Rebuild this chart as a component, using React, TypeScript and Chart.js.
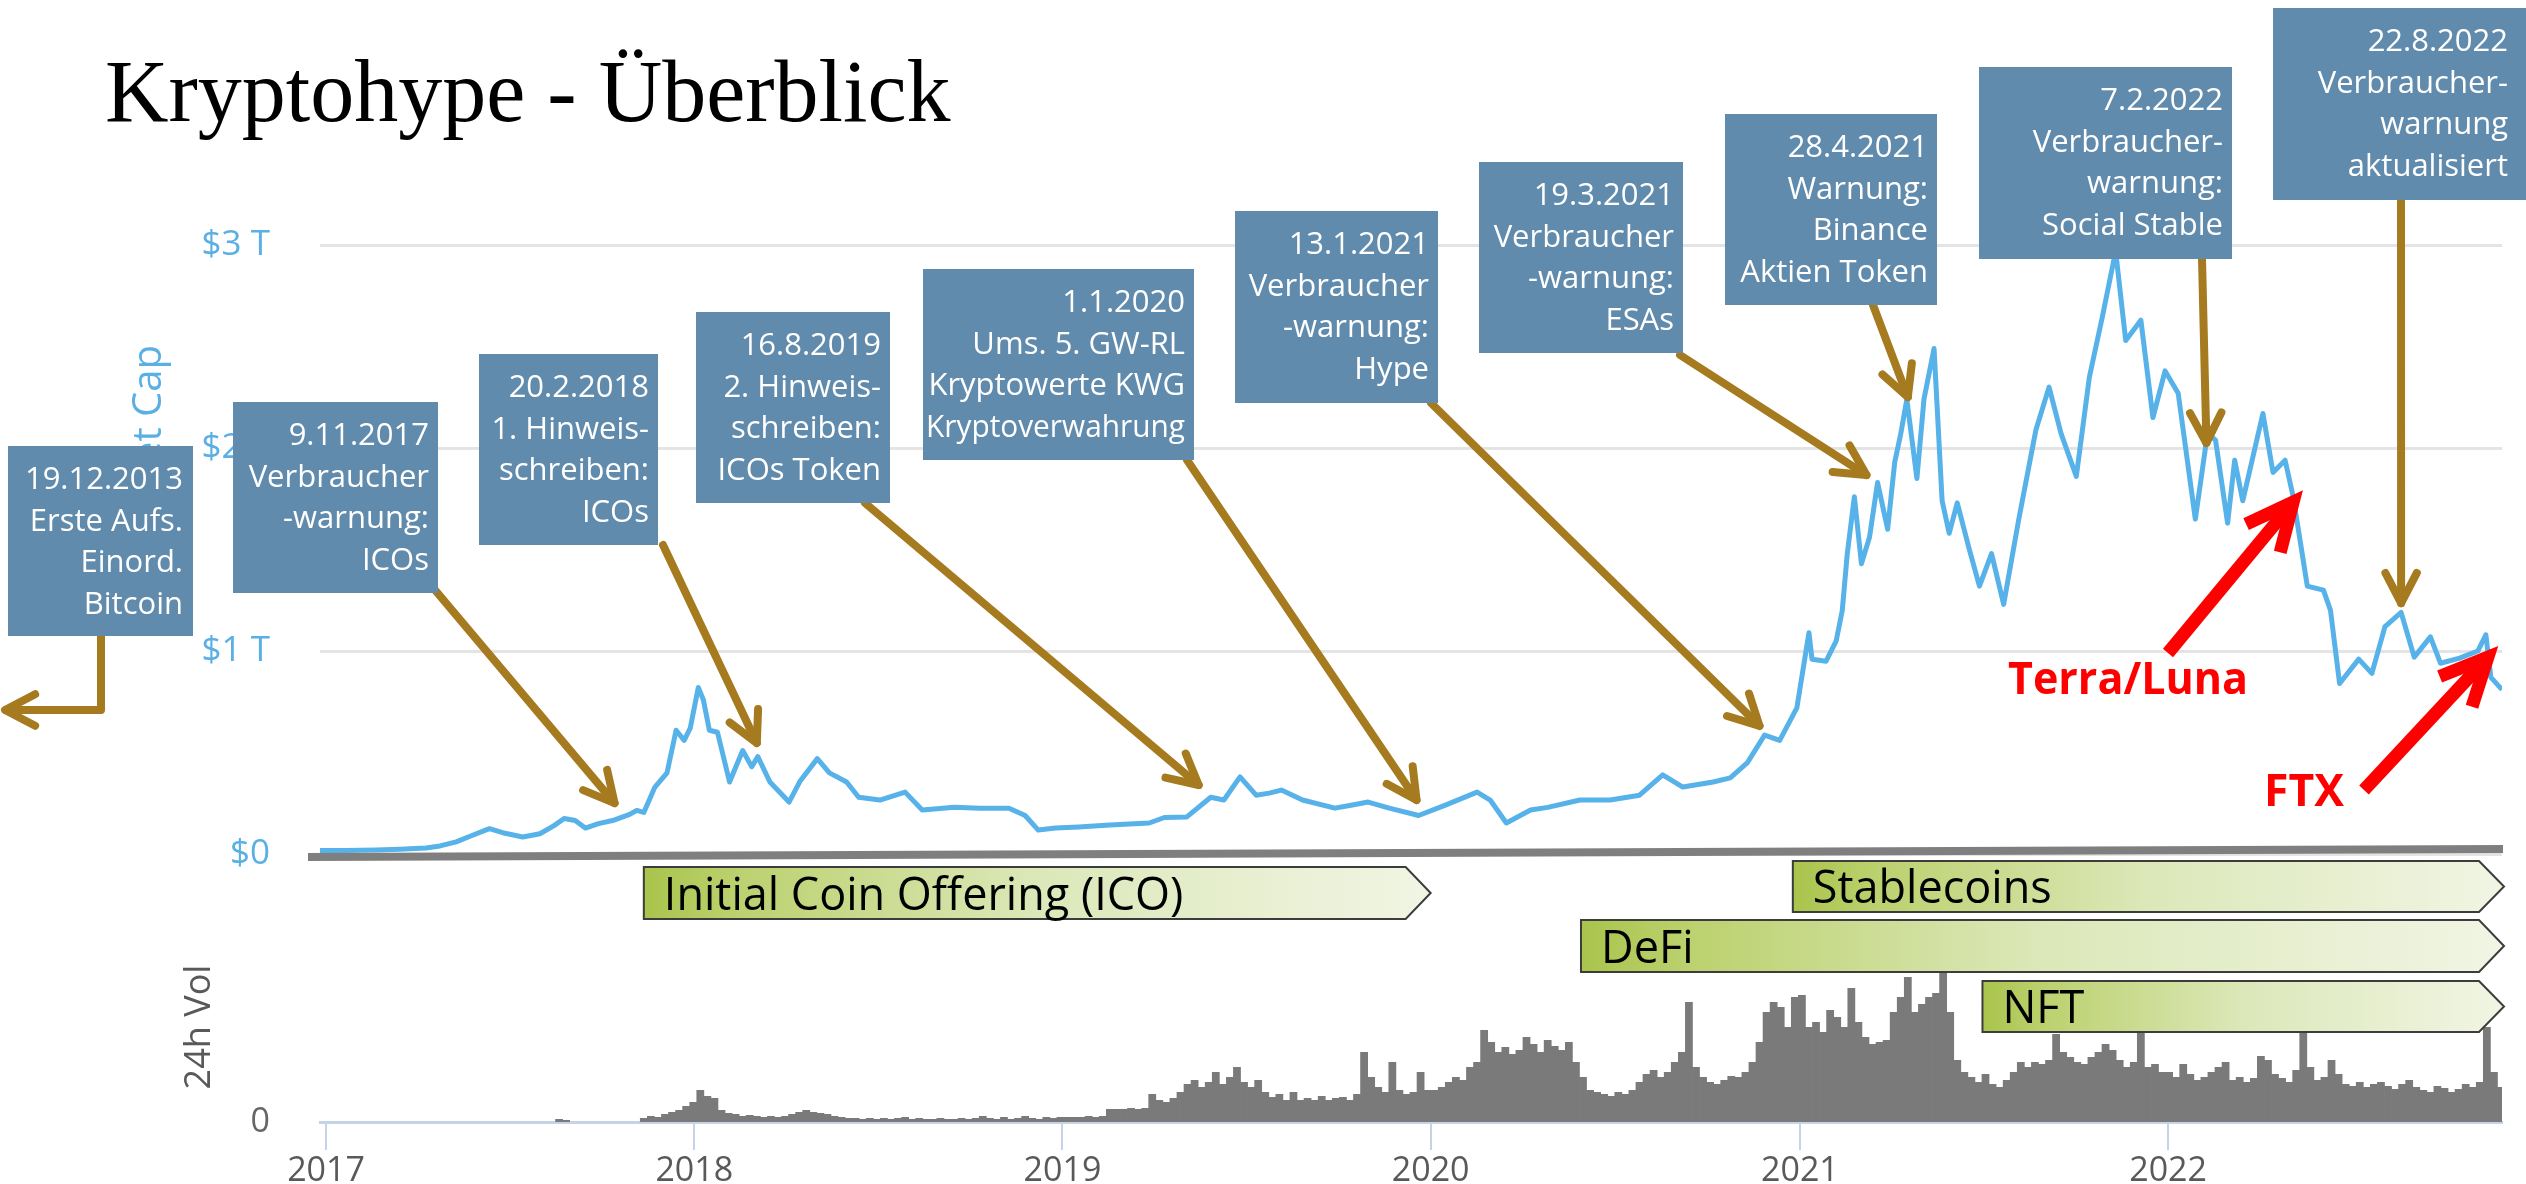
import React, { useEffect, useRef } from 'react';
import { Chart, registerables } from 'chart.js';
Chart.register(...registerables);

// ---------------- data ----------------
const TITLE = 'Kryptohype - Überblick';
const MCAP_TITLE = 'Market Cap';
const VOL_TITLE = '24h Vol';

const YEAR_TICK_DATES = ['2017-01-01', '2018-01-01', '2019-01-01', '2020-01-01', '2021-01-01', '2022-01-01'];
const YEAR_LABELS = ['2017', '2018', '2019', '2020', '2021', '2022'];
const MCAP_TICKS = [0, 1000, 2000, 3000];
const MCAP_TICK_LABELS = ['$0', '$1 T', '$2 T', '$3 T'];
const VOL_TICK_LABEL = '0';

// total market cap, $ billions
const MCAP_DATES = [
  '2016-12-26', '2017-01-20', '2017-02-20', '2017-03-15', '2017-04-10', '2017-04-24', '2017-05-10', '2017-05-25',
  '2017-06-12', '2017-06-25', '2017-07-15', '2017-08-01', '2017-08-15', '2017-08-25', '2017-09-05', '2017-09-15',
  '2017-09-28', '2017-10-12', '2017-10-29', '2017-11-05', '2017-11-12', '2017-11-23', '2017-12-05', '2017-12-14',
  '2017-12-22', '2017-12-28', '2018-01-05', '2018-01-10', '2018-01-16', '2018-01-24', '2018-02-05', '2018-02-18',
  '2018-02-27', '2018-03-05', '2018-03-17', '2018-04-05', '2018-04-16', '2018-05-03', '2018-05-15', '2018-06-01',
  '2018-06-13', '2018-07-04', '2018-07-29', '2018-08-15', '2018-09-16', '2018-10-11', '2018-11-09', '2018-11-25',
  '2018-12-08', '2018-12-25', '2019-01-17', '2019-02-17', '2019-03-28', '2019-04-12', '2019-05-04', '2019-05-28',
  '2019-06-10', '2019-06-26', '2019-07-12', '2019-07-25', '2019-08-06', '2019-08-27', '2019-09-28', '2019-10-14',
  '2019-10-31', '2019-11-21', '2019-12-20', '2020-01-15', '2020-02-16', '2020-02-29', '2020-03-16', '2020-04-09',
  '2020-04-26', '2020-05-28', '2020-06-27', '2020-07-26', '2020-08-18', '2020-09-07', '2020-10-07', '2020-10-24',
  '2020-11-10', '2020-11-27', '2020-12-12', '2020-12-29', '2021-01-10', '2021-01-13', '2021-01-27', '2021-02-06',
  '2021-02-12', '2021-02-17', '2021-02-24', '2021-03-03', '2021-03-11', '2021-03-19', '2021-03-29', '2021-04-05',
  '2021-04-11', '2021-04-17', '2021-04-27', '2021-05-04', '2021-05-14', '2021-05-22', '2021-05-29', '2021-06-06',
  '2021-06-18', '2021-06-28', '2021-07-10', '2021-07-22', '2021-08-06', '2021-08-23', '2021-09-05', '2021-09-17',
  '2021-10-02', '2021-10-15', '2021-10-28', '2021-11-10', '2021-11-20', '2021-12-05', '2021-12-17', '2021-12-29',
  '2022-01-11', '2022-01-28', '2022-02-09', '2022-02-17', '2022-03-01', '2022-03-08', '2022-03-16', '2022-04-05',
  '2022-04-15', '2022-04-27', '2022-05-05', '2022-05-19', '2022-06-04', '2022-06-11', '2022-06-20', '2022-07-09',
  '2022-07-22', '2022-08-04', '2022-08-20', '2022-09-02', '2022-09-18', '2022-09-28', '2022-10-17', '2022-11-04',
  '2022-11-12', '2022-11-17', '2022-11-28',
];
const MCAP_BILLIONS = [
  17, 18, 20, 24, 30, 40, 60, 90,
  125, 105, 84, 100, 140, 175, 165, 128,
  150, 165, 195, 215, 205, 330, 400, 610,
  560, 620, 820, 760, 610, 600, 355, 510,
  430, 480, 355, 256, 360, 470, 400, 355,
  280, 266, 305, 217, 230, 226, 226, 190,
  118, 128, 133, 143, 153, 180, 182, 280,
  266, 380, 290, 300, 315, 266, 226, 240,
  256, 226, 190, 240, 305, 266, 153, 217,
  230, 266, 266, 290, 390, 330, 355, 375,
  450, 586, 560, 720, 1090, 960, 950, 1050,
  1200, 1480, 1760, 1430, 1560, 1830, 1600, 1930,
  2070, 2240, 1850, 2240, 2490, 1740, 1580, 1730,
  1500, 1320, 1480, 1230, 1650, 2090, 2300, 2070,
  1860, 2350, 2650, 2970, 2530, 2630, 2150, 2380,
  2270, 1650, 2070, 2040, 1630, 1940, 1740, 2170,
  1880, 1940, 1760, 1320, 1300, 1200, 840, 960,
  890, 1120, 1190, 970, 1070, 940, 965, 1000,
  1080, 870, 810,
];

// 24h volume, weekly samples starting at VOL_FIRST_DATE ($ billions, estimated)
const VOL_FIRST_DATE = '2017-01-01';
const VOL_STEP_DAYS = 7;
const VOL_2017 = [
  0, 0, 0, 0, 0, 0, 0, 0, 0, 0, 0, 0, 0, 0, 0, 0, 0, 0, 0, 0, 0, 0, 0, 0, 0, 0, 0, 0, 0, 0, 0, 0, 0,
  9, 6, 0, 0, 0, 0, 0, 0, 0, 0, 0, 0, 12, 18, 15, 24, 30, 36, 48, 60,
];
const VOL_2018 = [
  96, 78, 72, 36, 27, 24, 18, 21, 18, 15, 18, 15,
  18, 24, 30, 36, 30, 27, 24, 18,
  15, 12, 12, 9, 12, 9, 12, 9, 12, 15, 9, 12, 9, 9, 12, 9, 9, 12, 9, 12, 18, 12, 9, 15, 9, 12, 18, 12, 9, 15, 12, 15,
];
const VOL_2019 = [
  15, 15, 15, 18, 15, 18, 39, 39, 39, 42, 39, 42, 84, 66, 60, 72, 90, 114, 126, 105,
  120, 150, 114, 135, 165, 120, 105, 126, 90, 75, 84, 66, 90, 66, 72, 66, 78, 66, 72, 75,
  66, 84, 210, 135, 105, 90, 180, 96, 84, 90, 150, 96,
];
const VOL_2020 = [
  96, 105, 120, 135, 126, 165, 180, 276, 240, 210, 225, 204, 216, 255, 234, 210, 246, 228, 216, 240,
  180, 135, 96, 90, 84, 78, 90, 84, 96, 120, 144, 156, 135, 150, 180, 210, 360, 165, 135, 120,
  114, 126, 138, 135, 150, 180, 240, 330, 360, 345, 285, 375,
];
const VOL_2021 = [
  381, 285, 300, 270, 336, 315, 285, 402, 300, 255, 234, 240, 246, 330, 375, 435, 330, 354, 375, 387,
  480, 330, 186, 150, 135, 120, 144, 114, 105, 126,
  150, 180, 165, 180, 174, 186, 264, 210, 195, 180, 174, 195, 210, 234, 216, 186, 165, 180, 270, 165, 174, 150,
];
const VOL_2022 = [
  150, 135, 174, 144, 126, 135, 150, 165, 180, 126, 135, 120, 132, 198, 186, 144, 132, 120, 156, 276,
  165, 126, 135, 186, 144, 114, 108, 120, 105, 114, 120, 108, 99, 114, 126, 105, 96, 90, 108, 102,
  90, 99, 114, 105, 120, 285, 150, 105,
];

// annotation boxes (regulator events)
const EVENT_TEXTS = [
  ['19.12.2013', 'Erste Aufs.', 'Einord.', 'Bitcoin'],
  ['9.11.2017', 'Verbraucher', '-warnung:', 'ICOs'],
  ['20.2.2018', '1. Hinweis-', 'schreiben:', 'ICOs'],
  ['16.8.2019', '2. Hinweis-', 'schreiben:', 'ICOs Token'],
  ['1.1.2020', 'Ums. 5. GW-RL', 'Kryptowerte KWG', 'Kryptoverwahrung'],
  ['13.1.2021', 'Verbraucher', '-warnung:', 'Hype'],
  ['19.3.2021', 'Verbraucher', '-warnung:', 'ESAs'],
  ['28.4.2021', 'Warnung:', 'Binance', 'Aktien Token'],
  ['7.2.2022', 'Verbraucher-', 'warnung:', 'Social Stable'],
  ['22.8.2022', 'Verbraucher-', 'warnung', 'aktualisiert'],
];
// where each arrow points (date, $B); the first one points off the chart (2013)
const EVENT_TIP_DATES = [null, '2017-10-14', '2018-03-04', '2019-05-16', '2019-12-18', '2020-11-22', '2021-03-08', '2021-04-18', '2022-02-08', '2022-08-20'];
const EVENT_TIP_VALUES = [null, 251, 547, 340, 266, 631, 1867, 2251, 2025, 1236];

const PHASE_LABELS = ['Initial Coin Offering (ICO)', 'Stablecoins', 'DeFi', 'NFT'];
const PHASE_START = ['2017-11-12', '2020-12-25', '2020-05-29', '2021-07-01'];
const PHASE_END = ['2020-01-01', '2022-11-30', '2022-11-30', '2022-11-30'];

const CRASH_LABELS = ['Terra/Luna', 'FTX'];
const CRASH_TIP_DATES = ['2022-05-05', '2022-11-14'];
const CRASH_TIP_VALUES = [1734, 970];

// ---------------- layout / style ----------------
const W = 2526;
const H = 1184;
const BOX_LAYOUT = [
  { x1: 8, y1: 446, x2: 193, y2: 636, tr: 183, sx: 101, sy: 636 },
  { x1: 233, y1: 402, x2: 438, y2: 593, tr: 429, sx: 435, sy: 590 },
  { x1: 479, y1: 354, x2: 658, y2: 545, tr: 649, sx: 663, sy: 545 },
  { x1: 696, y1: 312, x2: 890, y2: 503, tr: 881, sx: 865, sy: 503 },
  { x1: 923, y1: 269, x2: 1194, y2: 460, tr: 1185, sx: 1187, sy: 460 },
  { x1: 1235, y1: 211, x2: 1438, y2: 403, tr: 1429, sx: 1431, sy: 403 },
  { x1: 1479, y1: 162, x2: 1683, y2: 353, tr: 1674, sx: 1680, sy: 355 },
  { x1: 1725, y1: 114, x2: 1937, y2: 305, tr: 1928, sx: 1873, sy: 305 },
  { x1: 1979, y1: 67, x2: 2232, y2: 259, tr: 2223, sx: 2202, sy: 259 },
  { x1: 2273, y1: 8, x2: 2526, y2: 200, tr: 2508, sx: 2401, sy: 200 },
];
const PHASE_ROWS = [
  { top: 867, h: 52 },
  { top: 861, h: 51 },
  { top: 920, h: 52 },
  { top: 981, h: 51 },
];
const CRASH_LAYOUT = [
  { sx: 2168, sy: 653, tx: 2008, ty: 694, tw: 240 },
  { sx: 2364, sy: 790, tx: 2264, ty: 806, tw: 80 },
];
const BOX_COLOR = '#608BAC';
const BROWN = '#A67B1F';
const LINE_BLUE = '#56B2E8';
const LABEL_BLUE = '#5AAFE5';
const SANS = '"Open Sans", "Noto Sans", sans-serif';

const EPOCH = Date.UTC(2017, 0, 1);
const dayOf = (s: string) => {
  const [y, m, d] = s.split('-').map(Number);
  return Math.round((Date.UTC(y, m - 1, d) - EPOCH) / 86400000);
};

function strokeArrowHead(ctx: CanvasRenderingContext2D, fx: number, fy: number, tx: number, ty: number, len: number, ang: number) {
  const a = Math.atan2(ty - fy, tx - fx);
  ctx.beginPath();
  ctx.moveTo(tx - len * Math.cos(a - ang), ty - len * Math.sin(a - ang));
  ctx.lineTo(tx, ty);
  ctx.lineTo(tx - len * Math.cos(a + ang), ty - len * Math.sin(a + ang));
  ctx.stroke();
}

const overlayPlugin = {
  id: 'overlay',
  afterDraw(chart: any) {
    const ctx: CanvasRenderingContext2D = chart.ctx;
    const xs = chart.scales.x;
    const ys = chart.scales.y;
    const vs = chart.scales.y2;
    ctx.save();

    // title
    ctx.fillStyle = '#000';
    ctx.font = '88px "Liberation Serif", serif';
    ctx.textAlign = 'left';
    ctx.textBaseline = 'alphabetic';
    ctx.fillText(TITLE, 105, 121);

    // axis titles
    ctx.save();
    ctx.translate(150, 345);
    ctx.rotate(-Math.PI / 2);
    ctx.fillStyle = LABEL_BLUE;
    ctx.font = `40px ${SANS}`;
    ctx.textAlign = 'right';
    ctx.textBaseline = 'middle';
    ctx.fillText(MCAP_TITLE, 0, 0);
    ctx.restore();

    ctx.save();
    ctx.translate(200, 1027);
    ctx.rotate(-Math.PI / 2);
    ctx.fillStyle = '#595959';
    ctx.font = `36px ${SANS}`;
    ctx.textAlign = 'center';
    ctx.textBaseline = 'middle';
    ctx.fillText(VOL_TITLE, 0, 0);
    ctx.restore();

    ctx.fillStyle = '#666';
    ctx.font = `34px ${SANS}`;
    ctx.textAlign = 'right';
    ctx.textBaseline = 'middle';
    ctx.fillText(VOL_TICK_LABEL, 270, vs.getPixelForValue(0));

    // separator bar under the market cap chart
    ctx.strokeStyle = '#7F7F7F';
    ctx.lineWidth = 8;
    ctx.lineCap = 'butt';
    ctx.beginPath();
    ctx.moveTo(308, 857);
    ctx.lineTo(2503, 849);
    ctx.stroke();

    // phase arrows
    PHASE_LABELS.forEach((label, i) => {
      const row = PHASE_ROWS[i];
      const x1 = xs.getPixelForValue(dayOf(PHASE_START[i]));
      const tip = xs.getPixelForValue(dayOf(PHASE_END[i]));
      const x2 = tip - 25;
      const t = row.top, b = row.top + row.h;
      const g = ctx.createLinearGradient(x1, 0, tip, 0);
      g.addColorStop(0, '#A9C44C');
      g.addColorStop(0.12, '#BCD16F');
      g.addColorStop(0.5, '#DCE8B9');
      g.addColorStop(1, '#F1F5E4');
      ctx.beginPath();
      ctx.moveTo(x1, t);
      ctx.lineTo(x2, t);
      ctx.lineTo(tip, (t + b) / 2);
      ctx.lineTo(x2, b);
      ctx.lineTo(x1, b);
      ctx.closePath();
      ctx.fillStyle = g;
      ctx.fill();
      ctx.strokeStyle = '#3C3C3C';
      ctx.lineWidth = 2;
      ctx.lineJoin = 'miter';
      ctx.stroke();
      ctx.fillStyle = '#000';
      ctx.font = `45px ${SANS}`;
      ctx.textAlign = 'left';
      ctx.textBaseline = 'alphabetic';
      ctx.fillText(label, x1 + 20, b - 9);
    });

    // brown event arrows
    ctx.strokeStyle = BROWN;
    ctx.lineWidth = 8;
    ctx.lineCap = 'round';
    ctx.lineJoin = 'round';
    EVENT_TEXTS.forEach((_, i) => {
      const L = BOX_LAYOUT[i];
      const d = EVENT_TIP_DATES[i];
      if (d === null) {
        // arrow pointing back in time (off the chart, to 2013)
        ctx.beginPath();
        ctx.moveTo(L.sx, L.sy);
        ctx.lineTo(L.sx, 710);
        ctx.lineTo(6, 710);
        ctx.stroke();
        strokeArrowHead(ctx, 40, 710, 5, 710, 34, 0.48);
        return;
      }
      const tx = xs.getPixelForValue(dayOf(d));
      const ty = ys.getPixelForValue(EVENT_TIP_VALUES[i] as number);
      ctx.beginPath();
      ctx.moveTo(L.sx, L.sy);
      ctx.lineTo(tx, ty);
      ctx.stroke();
      strokeArrowHead(ctx, L.sx, L.sy, tx, ty, 34, 0.48);
    });

    // event boxes
    EVENT_TEXTS.forEach((lines, i) => {
      const L = BOX_LAYOUT[i];
      ctx.fillStyle = BOX_COLOR;
      ctx.fillRect(L.x1, L.y1, L.x2 - L.x1, L.y2 - L.y1);
      ctx.fillStyle = '#fff';
      ctx.font = `31px ${SANS}`;
      ctx.textAlign = 'right';
      ctx.textBaseline = 'alphabetic';
      lines.forEach((ln, k) => {
        ctx.fillText(ln, L.tr, L.y1 + 43 + k * 41.5, L.x2 - L.x1 - 12);
      });
    });

    // red crash arrows
    ctx.strokeStyle = '#FF0000';
    ctx.lineWidth = 13;
    ctx.lineCap = 'butt';
    ctx.lineJoin = 'miter';
    CRASH_LABELS.forEach((label, i) => {
      const L = CRASH_LAYOUT[i];
      const tx = xs.getPixelForValue(dayOf(CRASH_TIP_DATES[i]));
      const ty = ys.getPixelForValue(CRASH_TIP_VALUES[i]);
      const a = Math.atan2(ty - L.sy, tx - L.sx);
      ctx.beginPath();
      ctx.moveTo(L.sx, L.sy);
      ctx.lineTo(tx - 8 * Math.cos(a), ty - 8 * Math.sin(a));
      ctx.stroke();
      strokeArrowHead(ctx, L.sx, L.sy, tx, ty, 52, 0.44);
      ctx.fillStyle = '#FF0000';
      ctx.font = `bold 45px ${SANS}`;
      ctx.textAlign = 'left';
      ctx.textBaseline = 'alphabetic';
      ctx.fillText(label, L.tx, L.ty, L.tw);
    });

    ctx.restore();
  },
};

export default function App() {
  const ref = useRef<HTMLCanvasElement | null>(null);
  useEffect(() => {
    if (!ref.current) return;
    const mcap = MCAP_DATES.map((d, i) => ({ x: dayOf(d), y: MCAP_BILLIONS[i] }));
    const vols = [...VOL_2017, ...VOL_2018, ...VOL_2019, ...VOL_2020, ...VOL_2021, ...VOL_2022];
    const v0 = dayOf(VOL_FIRST_DATE);
    const volume = vols.map((v, i) => ({ x: v0 + i * VOL_STEP_DAYS, y: v }));

    const chart = new Chart(ref.current, {
      type: 'bar',
      data: {
        datasets: [
          {
            type: 'line',
            data: mcap,
            yAxisID: 'y',
            borderColor: LINE_BLUE,
            borderWidth: 5,
            pointRadius: 0,
            tension: 0,
            borderJoinStyle: 'round',
            order: 0,
          } as any,
          {
            type: 'bar',
            data: volume,
            yAxisID: 'y2',
            backgroundColor: '#7A7A7A',
            borderWidth: 0,
            barPercentage: 1.1,
            categoryPercentage: 1,
            order: 1,
          } as any,
        ],
      },
      options: {
        responsive: false,
        maintainAspectRatio: false,
        animation: false,
        events: [],
        layout: { padding: { top: 40, right: 24, bottom: 0, left: 0 } },
        plugins: { legend: { display: false }, tooltip: { enabled: false } },
        scales: {
          x: {
            type: 'linear',
            min: -6,
            max: 2157,
            offset: false,
            afterFit: (s: any) => { s.height = 62; s.paddingLeft = 0; s.paddingRight = 0; s.paddingTop = 0; s.paddingBottom = 0; },
            afterBuildTicks: (s: any) => { s.ticks = YEAR_TICK_DATES.map((d) => ({ value: dayOf(d) })); },
            grid: { offset: false, drawOnChartArea: false, drawTicks: true, tickLength: 28, color: '#C6D3E6', lineWidth: 2 },
            border: { display: true, color: '#C6D3E6', width: 3 },
            ticks: {
              autoSkip: false,
              maxRotation: 0,
              padding: 4,
              color: '#595959',
              font: { family: SANS, size: 34, lineHeight: 1 },
              callback: (v: any) => YEAR_LABELS[YEAR_TICK_DATES.map(dayOf).indexOf(Number(v))] ?? '',
            },
          },
          y: {
            type: 'linear',
            position: 'left',
            min: -1320,
            max: 4010,
            afterFit: (s: any) => { s.width = 320; s.paddingTop = 0; s.paddingBottom = 0; s.paddingLeft = 0; s.paddingRight = 0; },
            afterBuildTicks: (s: any) => { s.ticks = MCAP_TICKS.map((v) => ({ value: v })); },
            grid: { color: '#E4E4E4', lineWidth: 3, drawTicks: false },
            border: { display: false },
            ticks: {
              padding: 50,
              color: LABEL_BLUE,
              font: { family: SANS, size: 35 },
              callback: (v: any) => MCAP_TICK_LABELS[MCAP_TICKS.indexOf(Number(v))] ?? '',
            },
          },
          y2: {
            type: 'linear',
            display: false,
            min: 0,
            max: 3246,
          },
        },
      } as any,
      plugins: [overlayPlugin],
    });
    return () => chart.destroy();
  }, []);

  return (
    <canvas
      ref={ref}
      width={W}
      height={H}
      style={{ position: 'absolute', left: 0, top: 0, display: 'block' }}
    />
  );
}
